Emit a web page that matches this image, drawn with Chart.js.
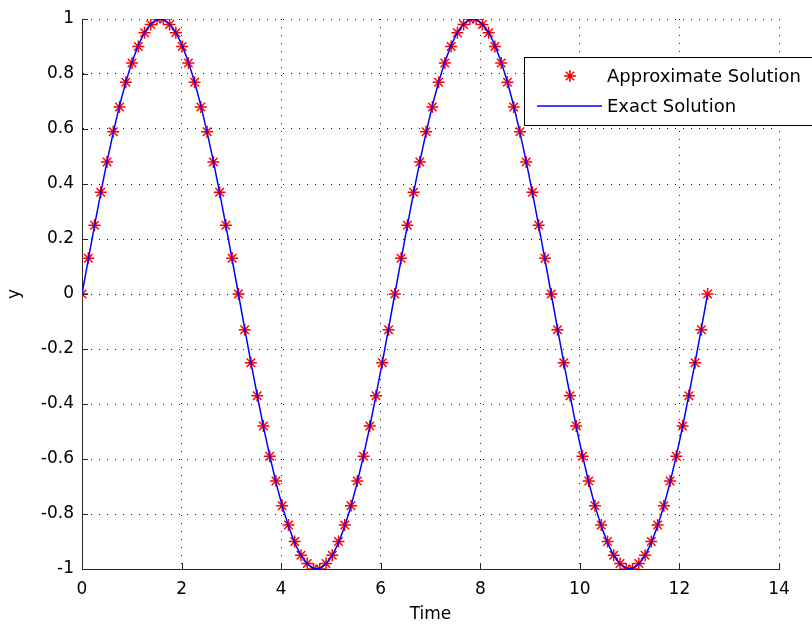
<!DOCTYPE html>
<html>
<head>
<meta charset="utf-8">
<script src="https://cdn.jsdelivr.net/npm/chart.js@4.4.0/dist/chart.umd.min.js"></script>
<style>
  html, body { margin: 0; padding: 0; background: #fff; }
  #wrap { width: 812px; height: 628px; position: relative; }
</style>
</head>
<body>
<div id="wrap"><canvas id="myChart" width="812" height="628"></canvas></div>
<script>
// time samples (step ~ 0.1257)
var time = [
  0, 0.126, 0.251, 0.377, 0.503, 0.628, 0.754, 0.880, 1.005, 1.131,
  1.257, 1.382, 1.508, 1.634, 1.759, 1.885, 2.011, 2.136, 2.262, 2.388,
  2.513, 2.639, 2.765, 2.890, 3.016, 3.142, 3.267, 3.393, 3.519, 3.644,
  3.770, 3.896, 4.021, 4.147, 4.273, 4.398, 4.524, 4.650, 4.775, 4.901,
  5.027, 5.152, 5.278, 5.404, 5.529, 5.655, 5.781, 5.906, 6.032, 6.158,
  6.283, 6.409, 6.535, 6.660, 6.786, 6.912, 7.037, 7.163, 7.288, 7.414,
  7.540, 7.665, 7.791, 7.917, 8.042, 8.168, 8.294, 8.419, 8.545, 8.671,
  8.796, 8.922, 9.048, 9.173, 9.299, 9.425, 9.550, 9.676, 9.802, 9.927,
  10.053, 10.179, 10.304, 10.430, 10.556, 10.681, 10.807, 10.933, 11.058, 11.184,
  11.310, 11.435, 11.561, 11.687, 11.812, 11.938, 12.064, 12.189, 12.315, 12.441,
  12.566
];
var approx = [
  0, 0.13, 0.25, 0.37, 0.48, 0.59, 0.68, 0.77, 0.84, 0.90,
  0.95, 0.98, 1.00, 1.00, 0.98, 0.95, 0.90, 0.84, 0.77, 0.68,
  0.59, 0.48, 0.37, 0.25, 0.13, 0, -0.13, -0.25, -0.37, -0.48,
  -0.59, -0.68, -0.77, -0.84, -0.90, -0.95, -0.98, -1.00, -1.00, -0.98,
  -0.95, -0.90, -0.84, -0.77, -0.68, -0.59, -0.48, -0.37, -0.25, -0.13,
  0, 0.13, 0.25, 0.37, 0.48, 0.59, 0.68, 0.77, 0.84, 0.90,
  0.95, 0.98, 1.00, 1.00, 0.98, 0.95, 0.90, 0.84, 0.77, 0.68,
  0.59, 0.48, 0.37, 0.25, 0.13, 0, -0.13, -0.25, -0.37, -0.48,
  -0.59, -0.68, -0.77, -0.84, -0.90, -0.95, -0.98, -1.00, -1.00, -0.98,
  -0.95, -0.90, -0.84, -0.77, -0.68, -0.59, -0.48, -0.37, -0.25, -0.13,
  0
];
var exact = [
  0, 0.125, 0.249, 0.368, 0.482, 0.588, 0.685, 0.771, 0.844, 0.905,
  0.951, 0.982, 0.998, 0.998, 0.982, 0.951, 0.905, 0.844, 0.771, 0.685,
  0.588, 0.482, 0.368, 0.249, 0.125, 0, -0.125, -0.249, -0.368, -0.482,
  -0.588, -0.685, -0.771, -0.844, -0.905, -0.951, -0.982, -0.998, -0.998, -0.982,
  -0.951, -0.905, -0.844, -0.771, -0.685, -0.588, -0.482, -0.368, -0.249, -0.125,
  0, 0.125, 0.249, 0.368, 0.482, 0.588, 0.685, 0.771, 0.844, 0.905,
  0.951, 0.982, 0.998, 0.998, 0.982, 0.951, 0.905, 0.844, 0.771, 0.685,
  0.588, 0.482, 0.368, 0.249, 0.125, 0, -0.125, -0.249, -0.368, -0.482,
  -0.588, -0.685, -0.771, -0.844, -0.905, -0.951, -0.982, -0.998, -0.998, -0.982,
  -0.951, -0.905, -0.844, -0.771, -0.685, -0.588, -0.482, -0.368, -0.249, -0.125,
  0
];
var xTicks = [0, 2, 4, 6, 8, 10, 12, 14];
var seriesNames = ["Approximate Solution", "Exact Solution"];

var FONT = "'DejaVu Sans', sans-serif";

function toPoints(xs, ys) {
  var pts = [];
  for (var i = 0; i < xs.length; i++) pts.push({ x: xs[i], y: ys[i] });
  return pts;
}

// matlab style inward ticks + boxed legend
var matlabBits = {
  id: "matlabBits",
  afterDraw: function(chart) {
    var ctx = chart.ctx;
    var a = chart.chartArea;
    var xs = chart.scales.x, ys = chart.scales.y;
    ctx.save();
    ctx.setLineDash([]);
    ctx.strokeStyle = "#262626";
    ctx.lineWidth = 1;
    ctx.beginPath();
    xs.ticks.forEach(function(t) {
      var px = Math.round(xs.getPixelForValue(t.value)) + 0.5;
      ctx.moveTo(px, a.bottom);
      ctx.lineTo(px, a.bottom - 6);
    });
    ys.ticks.forEach(function(t) {
      var py = Math.round(ys.getPixelForValue(t.value)) + 0.5;
      ctx.moveTo(a.left, py);
      ctx.lineTo(a.left + 6, py);
    });
    ctx.stroke();

    // legend box
    var bx = 524.5, by = 57.5, bw = 300, bh = 68;
    ctx.fillStyle = "#fff";
    ctx.fillRect(bx, by, bw, bh);
    ctx.strokeStyle = "#000";
    ctx.strokeRect(bx, by, bw, bh);

    ctx.font = "18px " + FONT;
    ctx.fillStyle = "#000";
    ctx.textBaseline = "middle";
    ctx.textAlign = "left";
    ctx.fillText(seriesNames[0], 607, 77);
    ctx.fillText(seriesNames[1], 607, 107);

    // star marker sample
    ctx.strokeStyle = "#ff0000";
    ctx.lineWidth = 1.5;
    ctx.beginPath();
    ctx.moveTo(564, 76); ctx.lineTo(576, 76);
    ctx.moveTo(570, 70); ctx.lineTo(570, 82);
    ctx.moveTo(565.8, 71.8); ctx.lineTo(574.2, 80.2);
    ctx.moveTo(574.2, 71.8); ctx.lineTo(565.8, 80.2);
    ctx.stroke();

    ctx.strokeStyle = "#0000ff";
    ctx.lineWidth = 1.5;
    ctx.beginPath();
    ctx.moveTo(537, 106);
    ctx.lineTo(602, 106);
    ctx.stroke();
    ctx.restore();
  }
};

var ctx = document.getElementById("myChart").getContext("2d");
var chart = new Chart(ctx, {
  type: "scatter",
  data: {
    datasets: [{
      label: seriesNames[0],
      data: toPoints(time, approx),
      showLine: false,
      pointStyle: "star",
      pointRadius: 6,
      pointBorderWidth: 1.5,
      borderColor: "#ff0000",
      backgroundColor: "#ff0000",
      order: 2
    }, {
      label: seriesNames[1],
      data: toPoints(time, exact),
      showLine: true,
      pointRadius: 0,
      borderColor: "#0000ff",
      borderWidth: 1.5,
      tension: 0,
      order: 1
    }]
  },
  options: {
    responsive: false,
    animation: false,
    events: [],
    layout: { padding: { top: 19, right: 33, left: 0, bottom: 0 } },
    plugins: {
      legend: { display: false },
      tooltip: { enabled: false }
    },
    scales: {
      x: {
        type: "linear",
        min: 0,
        max: 14,
        afterBuildTicks: function(scale) {
          scale.ticks = xTicks.map(function(v) { return { value: v }; });
        },
        afterFit: function(scale) { scale.height = 59; },
        border: { display: true, color: "#262626", width: 1, dash: [1, 7] },
        grid: {
          color: "#1a1a1a",
          lineWidth: 1,
          drawTicks: false,
          tickLength: 0
        },
        ticks: {
          padding: 10,
          color: "#000",
          font: { family: FONT, size: 17 },
          maxRotation: 0
        },
        title: {
          display: true,
          text: "Time",
          color: "#000",
          font: { family: FONT, size: 17 },
          padding: { top: 0, bottom: 3 }
        }
      },
      y: {
        type: "linear",
        min: -1,
        max: 1,
        afterFit: function(scale) { scale.width = 82; },
        border: { display: true, color: "#262626", width: 1, dash: [1, 7] },
        grid: {
          color: "#1a1a1a",
          lineWidth: 1,
          drawTicks: false,
          tickLength: 0
        },
        ticks: {
          stepSize: 0.2,
          padding: 8,
          color: "#000",
          font: { family: FONT, size: 17 },
          callback: function(v) { return String(Number(v.toFixed(1))); }
        },
        title: {
          display: true,
          text: "y",
          color: "#000",
          font: { family: FONT, size: 17 },
          padding: { top: 4, bottom: 0 }
        }
      }
    }
  },
  plugins: [matlabBits]
});
</script>
</body>
</html>
